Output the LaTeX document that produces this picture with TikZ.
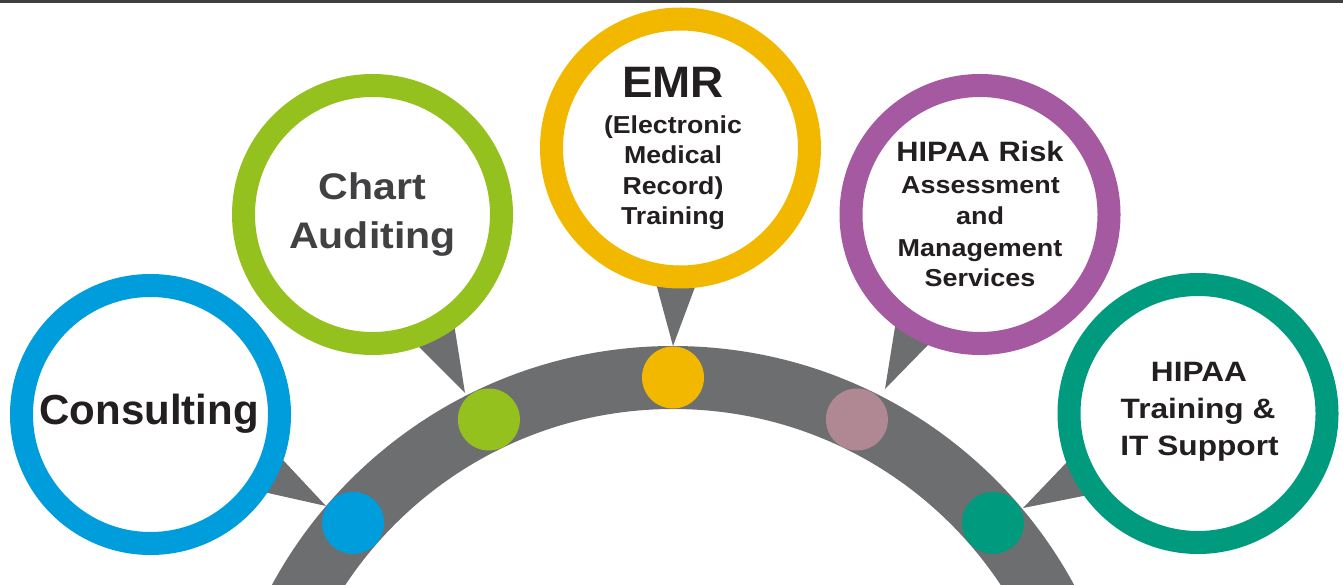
\documentclass[tikz,border=0pt]{standalone}
\usepackage{fontspec}
\setmainfont{Liberation Sans}
\usetikzlibrary{calc}
\definecolor{cblue}{RGB}{0,157,221}
\definecolor{cgreen}{RGB}{149,193,31}
\definecolor{cyellow}{RGB}{242,184,0}
\definecolor{cpurple}{RGB}{165,89,160}
\definecolor{cteal}{RGB}{0,155,126}
\definecolor{cpink}{RGB}{176,136,148}
\definecolor{cgray}{RGB}{109,110,112}
\definecolor{cbar}{RGB}{64,64,64}
\definecolor{ctext}{RGB}{35,31,32}
\definecolor{ctextgray}{RGB}{65,64,66}
\newcommand{\fz}[2]{\fontsize{#1}{#1}\selectfont\bfseries\addfontfeature{FakeStretch=#2}}
\begin{document}
\begin{tikzpicture}[x=1pt,y={(0pt,-1pt)},
  ring/.style={circle, draw=#1, line width=23pt, fill=white, minimum size=258pt, inner sep=0pt},
  dot/.style={circle, fill=#1, minimum size=62pt, inner sep=0pt},
  pointer/.style={fill=cgray},
  lbl/.style={anchor=base, inner sep=0pt, text=ctext}]
\path[use as bounding box] (0,0) rectangle (1343,585);
\clip (0,0) rectangle (1343,585);
% top bar
\fill[cbar] (0,0) rectangle (1343,3);
% arc band
\coordinate (arcc) at (673,802);
\draw[cgray, line width=63pt] (arcc) circle (424.5pt);
% pointer coordinates
\coordinate (t1) at (326,506); \coordinate (e1a) at (268,493); \coordinate (e1b) at (283,460);
\coordinate (t2) at (465,393); \coordinate (e2a) at (420,348); \coordinate (e2b) at (455,330);
\coordinate (t3) at (673,346); \coordinate (e3a) at (657,287); \coordinate (e3b) at (695,287);
\coordinate (t4) at (885,389); \coordinate (e4a) at (895,327); \coordinate (e4b) at (928,345);
\coordinate (t5) at (1023,508); \coordinate (e5a) at (1067,462); \coordinate (e5b) at (1083,496);
\foreach \i in {1,...,5}{
  \fill[pointer] (t\i) -- ($(t\i)!1.3!(e\i a)$) -- ($(t\i)!1.3!(e\i b)$) -- cycle;
}
% dots on the arc
\node[dot=cblue]   (d1) at (353.1,522.9) {};
\node[dot=cgreen]  (d2) at (488.9,419.5) {};
\node[dot=cyellow] (d3) at (673,377.5) {};
\node[dot=cpink]   (d4) at (856.9,419.5) {};
\node[dot=cteal]   (d5) at (992.9,522.9) {};
% rings
\node[ring=cblue]   (c1) at (150.5,414.5) {};
\node[ring=cgreen]  (c2) at (372.5,214.5) {};
\node[ring=cyellow] (c3) at (680.5,148) {};
\node[ring=cpurple] (c4) at (980,214.5) {};
\node[ring=cteal]   (c5) at (1198,413.5) {};
% texts
\node[lbl, font=\fz{42}{1.0}] (l1) at (149,424) {Consulting};
\node[lbl, font=\fz{37}{1.11}, text=ctextgray] (l2a) at (372.5,200) {Chart};
\node[lbl, font=\fz{37}{1.11}, text=ctextgray] (l2b) at (372.5,249) {Auditing};
\node[lbl, font=\fz{44}{1.04}] (l3a) at (673,97.5) {EMR};
\node[lbl, font=\fz{24.5}{1.09}] (l3b) at (673,134) {(Electronic};
\node[lbl, font=\fz{24.5}{1.09}] (l3c) at (673,164) {Medical};
\node[lbl, font=\fz{24.5}{1.09}] (l3d) at (673,194.3) {Record)};
\node[lbl, font=\fz{24.5}{1.09}] (l3e) at (673,224.3) {Training};
\node[lbl, font=\fz{28}{1.1}] (l4a) at (980,161.7) {HIPAA Risk};
\node[lbl, font=\fz{24.5}{1.1}] (l4b) at (980.5,194) {Assessment};
\node[lbl, font=\fz{24.5}{1.1}] (l4c) at (980,225) {and};
\node[lbl, font=\fz{24.5}{1.1}] (l4d) at (980,256.7) {Management};
\node[lbl, font=\fz{24.5}{1.1}] (l4e) at (980,286.7) {Services};
\node[lbl, font=\fz{28}{1.13}] (l5a) at (1199,381.7) {HIPAA};
\node[lbl, font=\fz{28}{1.13}] (l5b) at (1198,418.3) {Training \&};
\node[lbl, font=\fz{28}{1.13}] (l5c) at (1199.5,455) {IT Support};
\end{tikzpicture}
\end{document}
